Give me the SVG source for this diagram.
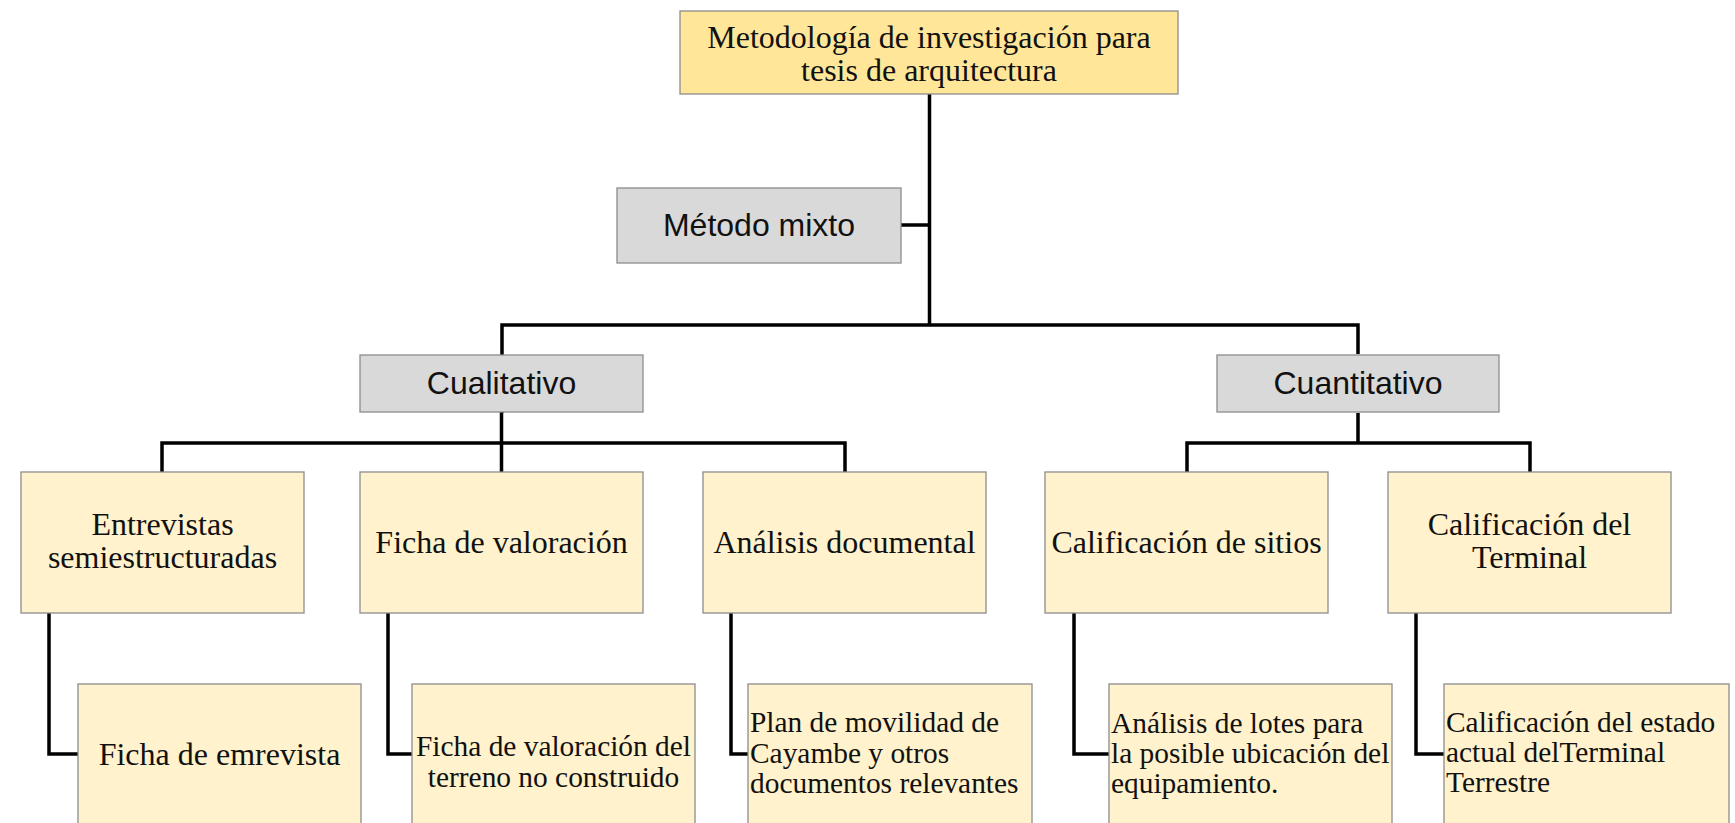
<svg xmlns="http://www.w3.org/2000/svg" width="1735" height="823" viewBox="0 0 1735 823">
<style>
  .box { stroke: #8c8c8c; stroke-width: 1.3; }
  .top { fill: #FFE699; }
  .lvl { fill: #FFF2CC; }
  .gray { fill: #D9D9D9; }
  .serif { font-family: "Liberation Serif", "Times New Roman", serif; fill: #111; }
  .sans { font-family: "Liberation Sans", Arial, sans-serif; fill: #111; font-size: 32px; }
  .big { font-size: 32px; }
  .small { font-size: 29.4px; }
  .c { text-anchor: middle; }
  .conn { fill: none; stroke: #000; stroke-width: 3.5; stroke-linejoin: miter; stroke-linecap: butt; }
</style>
<rect width="1735" height="823" fill="#fff"/>
<g id="connectors">
  <path class="conn" d="M929.5 94 V325"/>
  <path class="conn" d="M901 225 H929.5"/>
  <path class="conn" d="M502 413 V325 H1358 V354"/>
  <path class="conn" d="M501.5 355 V472 M162 472 V443 H845 V472"/>
  <path class="conn" d="M1358 413 V443 M1187 472 V443 H1530 V472"/>
  <path class="conn" d="M49 613 V754 H78"/>
  <path class="conn" d="M388 613 V754 H412"/>
  <path class="conn" d="M731 613 V754 H748"/>
  <path class="conn" d="M1074 613 V754 H1109"/>
  <path class="conn" d="M1416 613 V754 H1444"/>
</g>
<g id="n-root">
  <rect class="box top" x="680" y="11" width="498" height="83"/>
  <text class="serif big c" x="929" y="48">Metodología de investigación para</text>
  <text class="serif big c" x="929" y="81">tesis de arquitectura</text>
</g>
<g id="n-mixto">
  <rect class="box gray" x="617" y="188" width="284" height="75"/>
  <text class="sans c" x="759" y="236">Método mixto</text>
</g>
<g id="n-cualitativo">
  <rect class="box gray" x="360" y="355" width="283" height="57"/>
  <text class="sans c" x="501.5" y="394">Cualitativo</text>
</g>
<g id="n-cuantitativo">
  <rect class="box gray" x="1217" y="355" width="282" height="57"/>
  <text class="sans c" x="1358" y="394">Cuantitativo</text>
</g>
<g id="n-entrevistas">
  <rect class="box lvl" x="21" y="472" width="283" height="141"/>
  <text class="serif big c" x="162.5" y="535">Entrevistas</text>
  <text class="serif big c" x="162.5" y="568">semiestructuradas</text>
</g>
<g id="n-ficha">
  <rect class="box lvl" x="360" y="472" width="283" height="141"/>
  <text class="serif big c" x="501.5" y="553">Ficha de valoración</text>
</g>
<g id="n-analisis">
  <rect class="box lvl" x="703" y="472" width="283" height="141"/>
  <text class="serif big c" x="844.5" y="553">Análisis documental</text>
</g>
<g id="n-sitios">
  <rect class="box lvl" x="1045" y="472" width="283" height="141"/>
  <text class="serif big c" x="1186.5" y="553">Calificación de sitios</text>
</g>
<g id="n-terminal">
  <rect class="box lvl" x="1388" y="472" width="283" height="141"/>
  <text class="serif big c" x="1529.5" y="535">Calificación del</text>
  <text class="serif big c" x="1529.5" y="568">Terminal</text>
</g>
<g id="n-ficha-entrevista">
  <rect class="box lvl" x="78" y="684" width="283" height="150"/>
  <text class="serif big c" x="219.5" y="765">Ficha de emrevista</text>
</g>
<g id="n-ficha-terreno">
  <rect class="box lvl" x="412" y="684" width="283" height="150"/>
  <text class="serif small c" x="553.5" y="756">Ficha de valoración del</text>
  <text class="serif small c" x="553.5" y="787">terreno no construido</text>
</g>
<g id="n-plan">
  <rect class="box lvl" x="748" y="684" width="284" height="150"/>
  <text class="serif small" x="750" y="732">Plan de movilidad de</text>
  <text class="serif small" x="750" y="763">Cayambe y otros</text>
  <text class="serif small" x="750" y="793">documentos relevantes</text>
</g>
<g id="n-lotes">
  <rect class="box lvl" x="1109" y="684" width="283" height="150"/>
  <text class="serif small" x="1111" y="733">Análisis de lotes para</text>
  <text class="serif small" x="1111" y="763">la posible ubicación del</text>
  <text class="serif small" x="1111" y="793">equipamiento.</text>
</g>
<g id="n-estado">
  <rect class="box lvl" x="1444" y="684" width="285" height="150"/>
  <text class="serif small" x="1446" y="732">Calificación del estado</text>
  <text class="serif small" x="1446" y="762">actual delTerminal</text>
  <text class="serif small" x="1446" y="792">Terrestre</text>
</g>
</svg>
